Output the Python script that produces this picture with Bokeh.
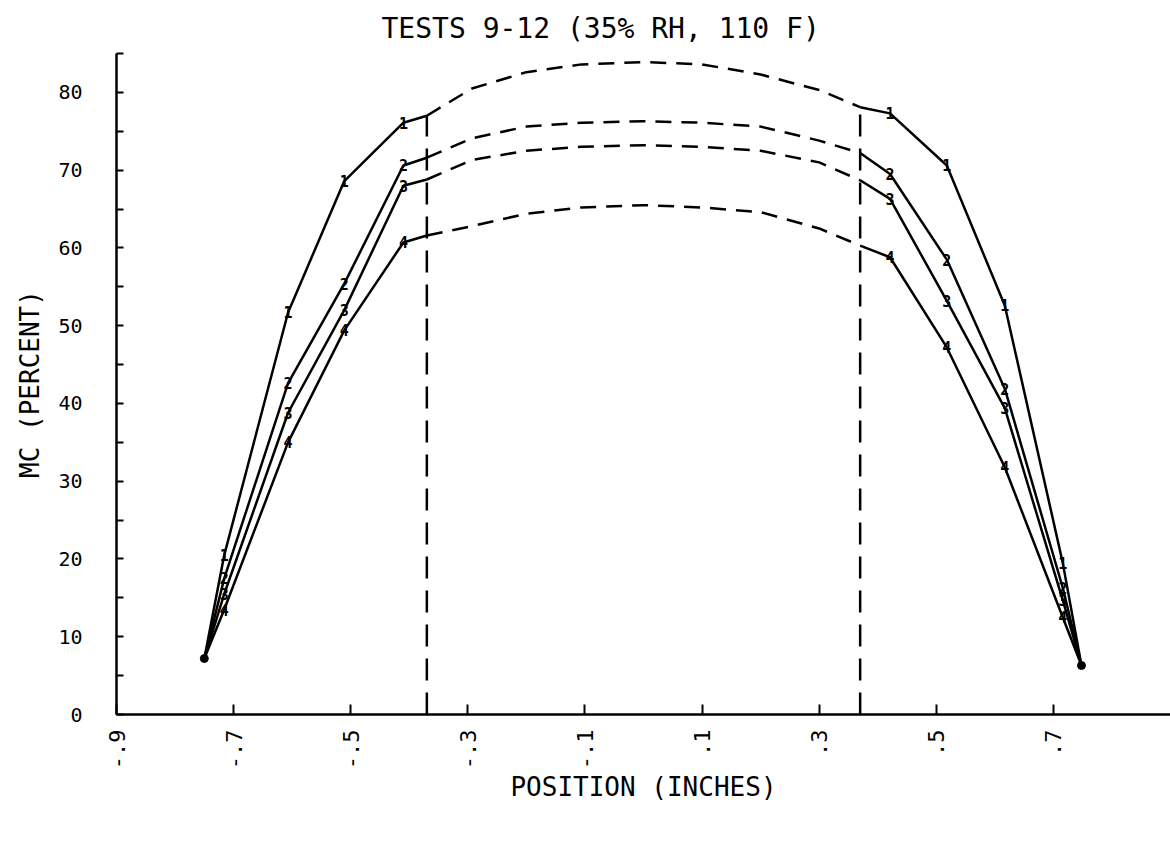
import math
from bokeh.plotting import figure
from bokeh.models import Range1d, FixedTicker
from bokeh.embed import file_html
from bokeh.resources import INLINE
from bokeh.core.properties import value

# ---------------- data ----------------
title_text = "TESTS 9-12 (35% RH, 110 F)"
x_label = "POSITION (INCHES)"
y_label = "MC (PERCENT)"

series_names = ["1", "2", "3", "4"]

# left solid portion (edge -> dashed boundary)
x_left = [-0.750, -0.716, -0.607, -0.511, -0.410, -0.370]
# dashed middle portion
x_mid = [-0.370, -0.293, -0.200, -0.106, 0.000, 0.100, 0.200, 0.300, 0.370]
# right solid portion (dashed boundary -> edge)
x_right = [0.370, 0.421, 0.518, 0.617, 0.716, 0.748]

mc1_left = [7.2, 20.5, 51.7, 68.6, 76.1, 77.0]
mc1_mid = [77.0, 80.5, 82.6, 83.6, 83.9, 83.6, 82.3, 80.3, 78.1]
mc1_right = [78.1, 77.3, 70.6, 52.6, 19.5, 6.3]

mc2_left = [7.2, 17.5, 42.6, 55.4, 70.6, 71.6]
mc2_mid = [71.6, 74.1, 75.6, 76.1, 76.3, 76.1, 75.6, 73.8, 72.2]
mc2_right = [72.2, 69.5, 58.5, 41.9, 16.3, 6.3]

mc3_left = [7.2, 15.5, 38.8, 52.0, 68.0, 68.8]
mc3_mid = [68.8, 71.3, 72.5, 73.0, 73.2, 73.0, 72.5, 71.0, 68.7]
mc3_right = [68.7, 66.3, 53.2, 39.4, 14.7, 6.3]

mc4_left = [7.2, 13.5, 35.0, 49.4, 60.7, 61.6]
mc4_mid = [61.6, 62.8, 64.4, 65.2, 65.5, 65.2, 64.6, 62.5, 60.3]
mc4_right = [60.3, 58.8, 47.2, 31.8, 12.5, 6.3]

# indices of the plotted (numbered) measurement points
marked_left = [1, 2, 3, 4]
marked_right = [1, 2, 3, 4]

x_ticks = [-0.9, -0.7, -0.5, -0.3, -0.1, 0.1, 0.3, 0.5, 0.7]
x_tick_labels = ["-.9", "-.7", "-.5", "-.3", "-.1", ".1", ".3", ".5", ".7"]
y_ticks = [0, 10, 20, 30, 40, 50, 60, 70, 80]
y_minor_ticks = [5, 15, 25, 35, 45, 55, 65, 75, 85]

# ---------------- figure ----------------
FONT = "DejaVu Sans Mono"

p = figure(width=1170, height=855, output_backend="svg", toolbar_location=None,
           x_range=Range1d(-0.9, 0.9), y_range=Range1d(0, 85),
           min_border_left=116, min_border_right=0,
           min_border_top=53, min_border_bottom=141)
p.outline_line_color = None
p.grid.visible = False
p.background_fill_color = "white"
p.border_fill_color = "white"

p.title.text = title_text
p.title.align = "left"
p.title.offset = 265
p.title.text_font = FONT
p.title.text_font_size = "28px"
p.title.text_font_style = "normal"
p.title.text_color = "black"
p.title.standoff = 17

xa = p.xaxis[0]
xa.ticker = FixedTicker(ticks=x_ticks, minor_ticks=[])
xa.major_label_overrides = {t: s for t, s in zip(x_ticks, x_tick_labels)}
xa.major_label_orientation = math.pi / 2
xa.major_label_text_font = FONT
xa.major_label_text_font_size = "22px"
xa.major_label_text_color = "black"
xa.major_label_standoff = 15
xa.major_tick_in = 10
xa.major_tick_out = 0
xa.major_tick_line_width = 2
xa.axis_line_width = 2.5
xa.axis_label = x_label
xa.axis_label_text_font = FONT
xa.axis_label_text_font_size = "26px"
xa.axis_label_text_font_style = "normal"
xa.axis_label_text_color = "black"
xa.axis_label_standoff = 0

ya = p.yaxis[0]
ya.ticker = FixedTicker(ticks=y_ticks, minor_ticks=y_minor_ticks)
ya.major_label_text_font = FONT
ya.major_label_text_font_size = "20px"
ya.major_label_text_color = "black"
ya.major_label_standoff = 34
ya.major_tick_in = 7
ya.major_tick_out = 0
ya.minor_tick_in = 7
ya.minor_tick_out = 0
ya.major_tick_line_width = 2
ya.minor_tick_line_width = 2
ya.axis_line_width = 2.5
ya.axis_label = y_label
ya.axis_label_text_font = FONT
ya.axis_label_text_font_size = "26px"
ya.axis_label_text_font_style = "normal"
ya.axis_label_text_color = "black"
ya.axis_label_standoff = 10

series = [
    (mc1_left, mc1_mid, mc1_right),
    (mc2_left, mc2_mid, mc2_right),
    (mc3_left, mc3_mid, mc3_right),
    (mc4_left, mc4_mid, mc4_right),
]

for name, (yl, ym, yr) in zip(series_names, series):
    p.line(x_left, yl, line_color="black", line_width=2.5)
    p.line(x_right, yr, line_color="black", line_width=2.5)
    p.line(x_mid, ym, line_color="black", line_width=2.5, line_dash="16 10")
    mx = [x_left[i] for i in marked_left] + [x_right[i] for i in marked_right]
    my = [yl[i] for i in marked_left] + [yr[i] for i in marked_right]
    p.text(x=mx, y=my, text=[name] * len(mx), text_font=value(FONT),
           text_font_style="bold", text_font_size="15px", text_color="black",
           text_align="center", text_baseline="middle")

# edge points
p.scatter([x_left[0], x_right[-1]], [mc1_left[0], mc1_right[-1]], size=8,
          marker="circle", color="black")

# dashed boundaries of the solid portions
p.segment(x0=[x_left[-1], x_right[0]], y0=[0, 0],
          x1=[x_left[-1], x_right[0]], y1=[mc1_left[-1], mc1_right[0]],
          line_color="black", line_width=2.5, line_dash="22 12")

open("out.html", "w").write(file_html(p, INLINE))
